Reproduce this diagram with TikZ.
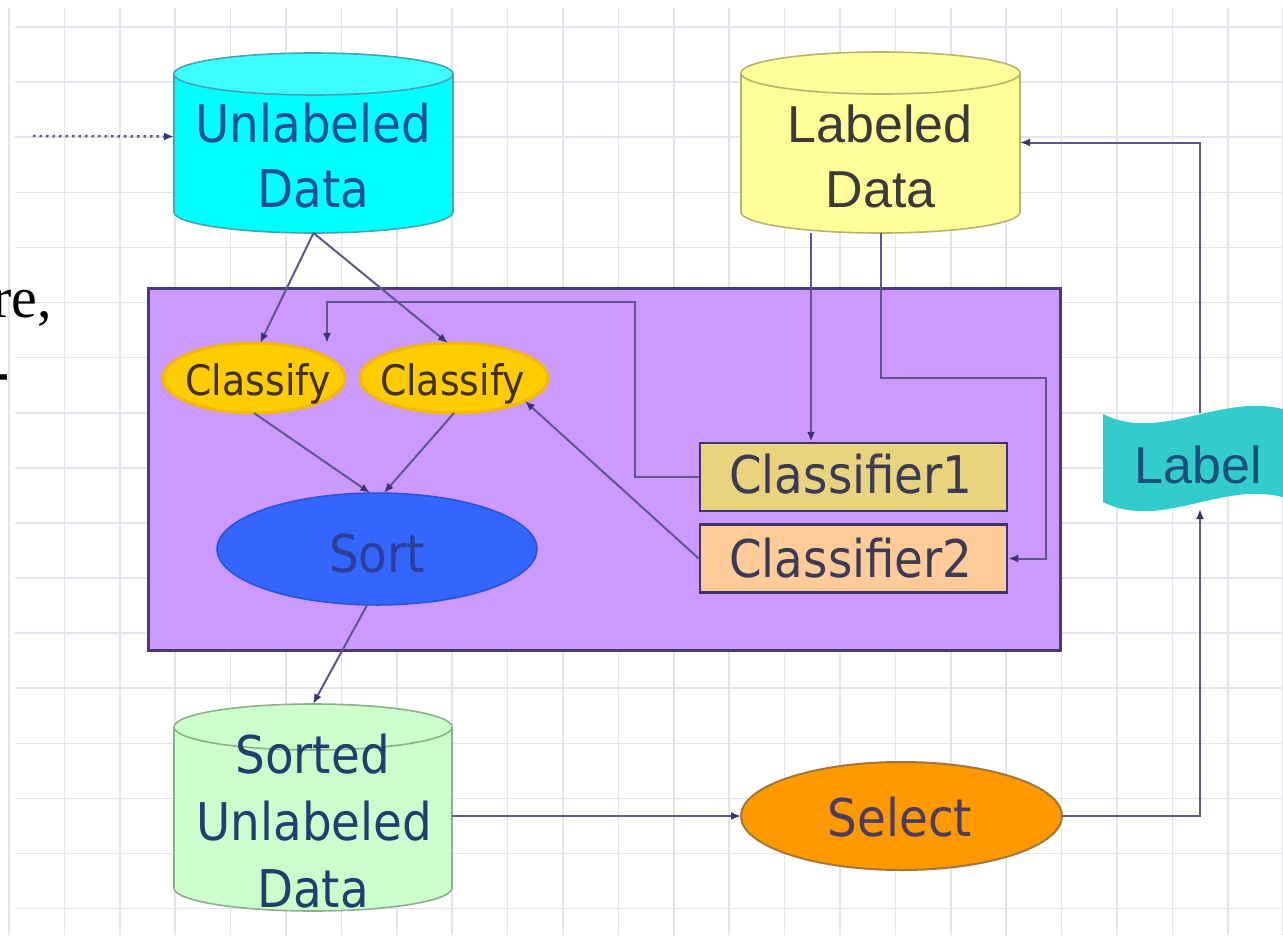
\documentclass[tikz,border=0pt]{standalone}
\usepackage{fontspec}
\newfontfamily\tah{DejaVu Sans Condensed}
\newfontfamily\ari{Liberation Sans}
\newfontfamily\tim{Liberation Serif}
\usetikzlibrary{arrows.meta,shapes.geometric,calc}
\definecolor{gridc}{HTML}{E4E4EF}
\definecolor{cyanfill}{HTML}{00FFFF}
\definecolor{cyantop}{HTML}{3DFFFF}
\definecolor{cyanline}{HTML}{3FA6B8}
\definecolor{yelfill}{HTML}{FFFF99}
\definecolor{yelline}{HTML}{B4B46C}
\definecolor{grnfill}{HTML}{CCFFCC}
\definecolor{grnline}{HTML}{8EAE8E}
\definecolor{boxfill}{HTML}{CC99FF}
\definecolor{boxline}{HTML}{4A3B78}
\definecolor{classfill}{HTML}{FFCC00}
\definecolor{classline}{HTML}{F5B800}
\definecolor{sortfill}{HTML}{3366FF}
\definecolor{sortline}{HTML}{2A52D6}
\definecolor{cfonefill}{HTML}{E8D47E}
\definecolor{cftwofill}{HTML}{FFCC99}
\definecolor{cfline}{HTML}{3F3468}
\definecolor{selfill}{HTML}{FF9900}
\definecolor{selline}{HTML}{A4763A}
\definecolor{labfill}{HTML}{33CCCC}
\definecolor{connc}{HTML}{60568E}
\definecolor{tipc}{HTML}{3C3470}
\definecolor{dotc}{HTML}{5E5E72}
\definecolor{udtext}{HTML}{1E4F9C}
\definecolor{ldtext}{HTML}{3A3A3A}
\definecolor{cltext}{HTML}{3F3020}
\definecolor{sorttext}{HTML}{2C3F94}
\definecolor{cftext}{HTML}{3B3B55}
\definecolor{labtext}{HTML}{1C4F7C}
\definecolor{seltext}{HTML}{4B3C63}
\definecolor{sudtext}{HTML}{1F3F6F}

% #1 cx, #2 top ellipse cy, #3 bottom ellipse cy, #4 rx, #5 ry, #6 fill, #7 line, #8 top fill
\newcommand\cylbody[8]{%
  \fill[#6] (#1-#4,#2) rectangle (#1+#4,#3);
  \fill[#6] (#1,#3) ellipse [x radius=#4, y radius=#5];
  \draw[#7, line width=1.6] (#1-#4,#2) -- (#1-#4,#3)
     arc [start angle=180, end angle=0, x radius=#4, y radius=#5] -- (#1+#4,#2);
  \filldraw[fill=#8, draw=#7, line width=1.6] (#1,#2) ellipse [x radius=#4, y radius=#5];
}

\begin{document}
\begin{tikzpicture}[x=1pt,y=-1pt,
  tbig/.style={inner sep=0, anchor=base, font=\tah\fontsize{52}{60}\selectfont},
  abig/.style={inner sep=0, anchor=base, font=\ari\fontsize{52}{60}\selectfont},
  tmid/.style={inner sep=0, anchor=base, font=\tah\fontsize{42}{48}\selectfont},
  shapebox/.style={inner sep=0, outer sep=0},
  conn/.style={draw=connc, line width=2, -{Latex[length=10,width=8,color=tipc]}},
  dotconn/.style={draw=dotc, line width=2.4, dash pattern=on 2.5pt off 4pt, -{Latex[length=10,width=8,color=tipc]}},
  oval/.style={ellipse, inner sep=0, outer sep=0},
  cfbox/.style={rectangle, draw=cfline, line width=2.5, minimum width=307, minimum height=68, inner sep=0}
]
\useasboundingbox (0,0) rectangle (1283,935);
\clip (0,0) rectangle (1283,935);
\fill[white] (0,0) rectangle (1283,935);

% grid
\foreach \i in {0,...,23} {
  \draw[gridc, line width=1.6] (9+55.4*\i,8) -- (9+55.4*\i,935);
}
\foreach \j in {0,...,16} {
  \draw[gridc, line width=1.6] (15,27+55.1*\j) -- (1283,27+55.1*\j);
}

% clipped slide text on the left
\node[inner sep=0, anchor=base east, font=\tim\fontsize{58}{58}\selectfont] (frag1) at (52,317) {re,};
\node[inner sep=0, anchor=base east, font=\tim\bfseries\fontsize{64}{64}\selectfont] (frag2) at (10,392) {-};

% purple panel
\node[shapebox, draw=boxline, fill=boxfill, line width=3, minimum width=912, minimum height=362] (box) at (604,469) {};

% cylinders
\cylbody{313.5}{74}{212}{139.5}{21}{cyanfill}{cyanline}{cyantop}
\node[shapebox, minimum width=279, minimum height=180] (ud) at (313.5,143) {};
\cylbody{880.5}{73}{212}{139.5}{21}{yelfill}{yelline}{yelfill}
\node[shapebox, minimum width=279, minimum height=180] (ld) at (880.5,142.5) {};
\cylbody{313}{727}{888}{139}{23}{grnfill}{grnline}{grnfill}
\node[shapebox, minimum width=278, minimum height=207] (sud) at (313,807.5) {};

% ovals and boxes
\node[oval, fill=classfill, draw=classline, line width=3, minimum width=182, minimum height=70] (cl1) at (254,378) {};
\node[oval, fill=classfill, draw=classline, line width=3, minimum width=188, minimum height=70] (cl2) at (454,378) {};
\node[oval, fill=sortfill, draw=sortline, line width=1.5, minimum width=320, minimum height=112] (sort) at (377,549) {};
\node[cfbox, fill=cfonefill] (c1) at (853.5,477) {};
\node[cfbox, fill=cftwofill] (c2) at (853.5,558.5) {};
\node[oval, fill=selfill, draw=selline, line width=2, minimum width=321, minimum height=108] (sel) at (901.5,816) {};

% wave banner
\fill[labfill] (1103,414) .. controls (1165,445) and (1230,385) .. (1297,414)
   -- (1297,502) .. controls (1230,473) and (1165,533) .. (1103,502) -- cycle;
\node[shapebox, minimum width=194, minimum height=96] (lab) at (1200,461) {};

% connectors
\coordinate (dstart) at (33,136);
\coordinate (b1) at (635,302);
\coordinate (b2) at (327,302);
\coordinate (lx1) at (811,0);
\coordinate (lx3) at (1046,378);
\draw[dotconn] (dstart) -- ($(ud.west)+(0,-6.5)$);
\draw[conn] (ud.south) -- (cl1.80);
\draw[conn] (ud.south) -- (cl2.100);
\draw[conn] (cl1.south) -- (sort.97);
\draw[conn] (cl2.south) -- (sort.83);
\draw[conn] (c1.west) -| (b1) -- (b2) -- (b2 |- cl1.north);
\draw[conn] (c2.west) -- (cl2.-18);
\draw[conn] (ld.south -| lx1) -- (c1.north -| lx1);
\draw[conn] (ld.south) |- (lx3) |- (c2.east);
\draw[conn] (sort.-100) -- (sud.north);
\draw[conn] (sud.east |- sel.west) -- (sel.west);
\draw[conn] (sel.east) -| (lab.south);
\draw[conn] (lab.north) |- (ld.east);

% texts
\node[tbig, text=udtext] (udt1) at (313.5,142) {Unlabeled};
\node[tbig, text=udtext] (udt2) at (313.5,207) {Data};
\node[abig, text=ldtext] (ldt1) at (880,142) {Labeled};
\node[abig, text=ldtext] (ldt2) at (880.5,207) {Data};
\node[tmid, text=cltext] (cl1t) at (258,395) {Classify};
\node[tmid, text=cltext] (cl2t) at (452.5,395) {Classify};
\node[tbig, text=sorttext] (sortt) at (377,572) {Sort};
\node[tbig, text=cftext] (c1t) at (851,493) {Classifier1};
\node[tbig, text=cftext] (c2t) at (851,577) {Classifier2};
\node[abig, text=labtext] (labt) at (1198,483) {Label};
\node[tbig, text=seltext] (selt) at (900,836) {Select};
\node[tbig, text=sudtext] (sudt1) at (312.5,773) {Sorted};
\node[tbig, text=sudtext] (sudt2) at (314.5,840) {Unlabeled};
\node[tbig, text=sudtext] (sudt3) at (313,907) {Data};
\end{tikzpicture}
\end{document}
